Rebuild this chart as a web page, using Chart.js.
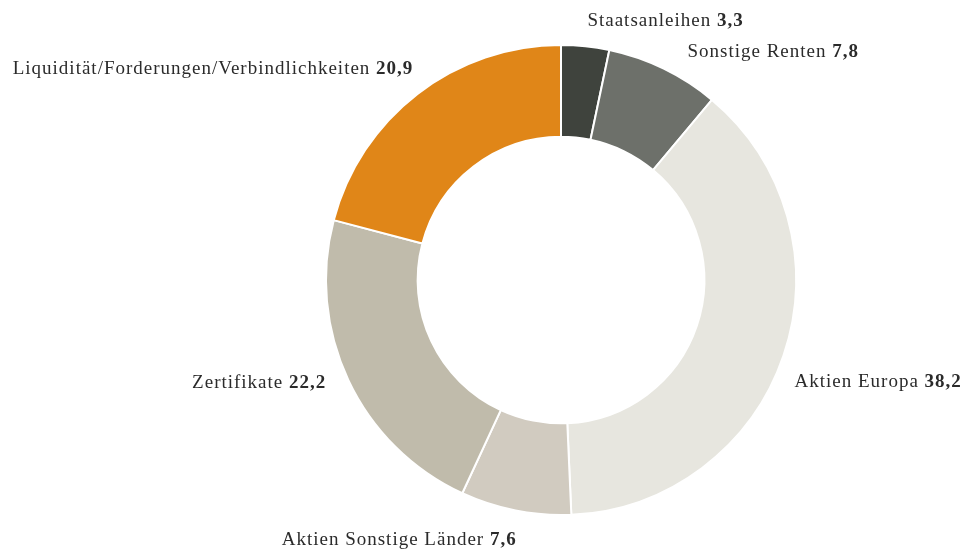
<!DOCTYPE html>
<html>
<head>
<meta charset="utf-8">
<script src="https://cdn.jsdelivr.net/npm/chart.js@4.4.1/dist/chart.umd.min.js"></script>
<style>
  html, body { margin: 0; padding: 0; background: #fff; }
  #wrap { width: 965px; height: 559px; }
</style>
</head>
<body>
<div id="wrap"><canvas id="myChart" width="965" height="559"></canvas></div>
<script>
// Daten
const kategorien = ['Staatsanleihen', 'Sonstige Renten', 'Aktien Europa', 'Aktien Sonstige Länder', 'Zertifikate', 'Liquidität/Forderungen/Verbindlichkeiten'];
const werte = [3.3, 7.8, 38.2, 7.6, 22.2, 20.9];
const farben = ['#3f433d', '#6d706a', '#e7e6df', '#d1cbc0', '#c0bbab', '#e08618'];

// Beschriftung: Ausrichtung und Feinverschiebung (px) zum Bogen
const ausrichtung = ['left', 'left', 'left', 'right', 'right', 'right'];
const versatzX = [0, 15, -8, 5, -4, 8];
const versatzY = [0, 6, 25, 15, -1, -4];

const schrift = '19px "Liberation Serif", "DejaVu Serif", serif';
const schriftFett = 'bold 19px "Liberation Serif", "DejaVu Serif", serif';

const labelPlugin = {
    id: 'aussenLabels',
    afterDatasetsDraw(chart) {
        const ctx = chart.ctx;
        const meta = chart.getDatasetMeta(0);
        ctx.save();
        ctx.fillStyle = '#2b2b2b';
        ctx.textBaseline = 'alphabetic';
        ctx.letterSpacing = '1px';
        meta.data.forEach(function(arc, i) {
            const p = arc.getProps(['x', 'y', 'startAngle', 'endAngle', 'outerRadius']);
            const mitte = (p.startAngle + p.endAngle) / 2;
            const r = p.outerRadius + 20;
            let x = p.x + Math.cos(mitte) * r + versatzX[i];
            let y = p.y + Math.sin(mitte) * r + versatzY[i];

            const name = kategorien[i] + ' ';
            const zahl = werte[i].toFixed(1).replace('.', ',');
            ctx.font = schrift;
            const wName = ctx.measureText(name).width;
            ctx.font = schriftFett;
            const wZahl = ctx.measureText(zahl).width;
            if (ausrichtung[i] == 'right') {
                x = x - wName - wZahl;
            }
            ctx.textAlign = 'left';
            ctx.font = schrift;
            ctx.fillText(name, x, y);
            ctx.font = schriftFett;
            ctx.fillText(zahl, x + wName, y);
        });
        ctx.restore();
    }
};

new Chart(document.getElementById('myChart'), {
    type: 'doughnut',
    data: {
        labels: kategorien,
        datasets: [{
            data: werte,
            backgroundColor: farben,
            borderColor: '#ffffff',
            borderWidth: 2,
            hoverOffset: 0
        }]
    },
    options: {
        responsive: false,
        animation: false,
        cutout: '61%',
        layout: {
            padding: { left: 325, right: 168, top: 44, bottom: 43 }
        },
        plugins: {
            legend: { display: false },
            tooltip: { enabled: false }
        }
    },
    plugins: [labelPlugin]
});
</script>
</body>
</html>
